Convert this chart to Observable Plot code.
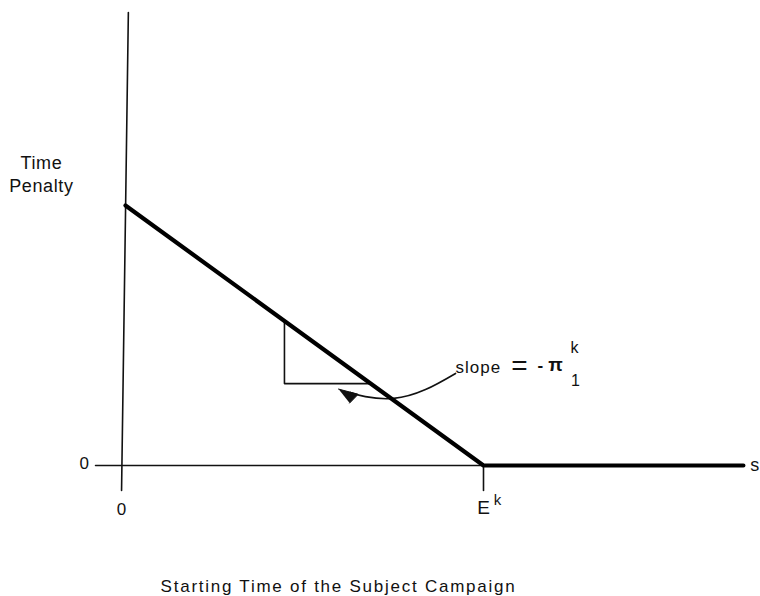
<!DOCTYPE html>
<html>
<head>
<meta charset="utf-8">
<script src="https://cdn.jsdelivr.net/npm/d3@7"></script>
<script src="https://cdn.jsdelivr.net/npm/@observablehq/plot@0.6"></script>
<style>
  html, body { margin: 0; padding: 0; background: #fff; }
</style>
</head>
<body>
<div id="chart"></div>
<script>
// Units: s = starting time (E^k = 10), p = time penalty (intercept = 10)
const E = 10;
const penaltyIntercept = 10;
const sMax = 17.26;

// Time-penalty function: linear decrease until E^k, then zero
const penalty = [
  {s: 0, p: penaltyIntercept},
  {s: E, p: 0},
  {s: sMax, p: 0}
];

// Axes (the scanned vertical axis is slightly slanted)
const yAxisLine = [{s: 0.08, p: 17.42}, {s: -0.11, p: -0.96}];
const xAxisLine = [{s: -0.84, p: 0}, {s: sMax, p: 0}];
const eTick = [{s: E, p: 0}, {s: E, p: -0.96}];

// Slope triangle
const triangle = [{s: 4.44, p: 5.56}, {s: 4.44, p: 3.15}, {s: 6.85, p: 3.15}];

// Curved pointer from the slope label to the triangle
const pointer = [
  {s: 9.22, p: 3.54}, {s: 8.38, p: 2.92}, {s: 7.49, p: 2.58},
  {s: 6.70, p: 2.65}, {s: 6.28, p: 2.81}
];
const pointerHead = [{s: 5.95, p: 2.94}, {s: 6.50, p: 2.74}, {s: 6.26, p: 2.40}];

// Text labels
const labels = [
  {s: -2.35, p: 11.24, text: "Time\nPenalty", size: 18, anchor: "middle", weight: "normal", spacing: 0.6},
  {s: -1.15, p: 0.15, text: "0", size: 17, anchor: "middle", weight: "normal", spacing: 0},
  {s: -0.11, p: -1.62, text: "0", size: 17, anchor: "middle", weight: "normal", spacing: 0},
  {s: 10.0, p: -1.58, text: "E", size: 19, anchor: "middle", weight: "normal", spacing: 0},
  {s: 10.39, p: -1.29, text: "k", size: 15, anchor: "middle", weight: "normal", spacing: 0},
  {s: 17.58, p: 0.08, text: "s", size: 18, anchor: "middle", weight: "normal", spacing: 0},
  {s: 9.22, p: 3.82, text: "slope", size: 17, anchor: "start", weight: "normal", spacing: 1},
  {s: 11.0, p: 3.92, text: "=", size: 28, anchor: "middle", weight: "normal", spacing: 0},
  {s: 11.59, p: 3.92, text: "-", size: 17, anchor: "middle", weight: "bold", spacing: 0},
  {s: 12.01, p: 3.92, text: "π", size: 19, anchor: "middle", weight: "bold", spacing: 0},
  {s: 12.54, p: 4.58, text: "k", size: 16, anchor: "middle", weight: "normal", spacing: 0},
  {s: 12.57, p: 3.31, text: "1", size: 16, anchor: "middle", weight: "normal", spacing: 0},
  {s: 5.95, p: -4.6, text: "Starting Time of the Subject Campaign", size: 17, anchor: "middle", weight: "normal", spacing: 1.75}
];

const chart = Plot.plot({
  width: 760,
  height: 596,
  marginTop: 0, marginRight: 0, marginBottom: 0, marginLeft: 0,
  style: {fontFamily: "'Liberation Sans', Arial, sans-serif", background: "#fff"},
  x: {domain: [0, 10], range: [125, 483], axis: null},
  y: {domain: [0, 10], range: [465, 205], axis: null},
  marks: [
    Plot.line(yAxisLine, {x: "s", y: "p", stroke: "#111", strokeWidth: 1.6}),
    Plot.line(xAxisLine, {x: "s", y: "p", stroke: "#111", strokeWidth: 1.3}),
    Plot.line(eTick, {x: "s", y: "p", stroke: "#111", strokeWidth: 1.6}),
    Plot.line(triangle, {x: "s", y: "p", stroke: "#111", strokeWidth: 1.6}),
    Plot.line(pointer, {x: "s", y: "p", stroke: "#111", strokeWidth: 1.6, curve: "natural"}),
    Plot.line(pointerHead, {x: "s", y: "p", fill: "#111", stroke: "#111", strokeWidth: 1}),
    Plot.line(penalty, {x: "s", y: "p", stroke: "#000", strokeWidth: 4.2}),
    ...labels.map(d => Plot.text([d], {
      x: "s", y: "p", text: "text",
      fontSize: d.size, fontWeight: d.weight, textAnchor: d.anchor,
      lineHeight: 1.28, fill: "#111"
    }))
  ]
});
// Apply per-label letter spacing (matched by text content)
d3.select(chart).selectAll("text").each(function() {
  const content = this.textContent;
  const lab = labels.find(l => l.text.replace(/\n/g, "") === content);
  if (lab && lab.spacing) d3.select(this).style("letter-spacing", lab.spacing + "px");
});
document.getElementById("chart").appendChild(chart);
</script>
</body>
</html>
